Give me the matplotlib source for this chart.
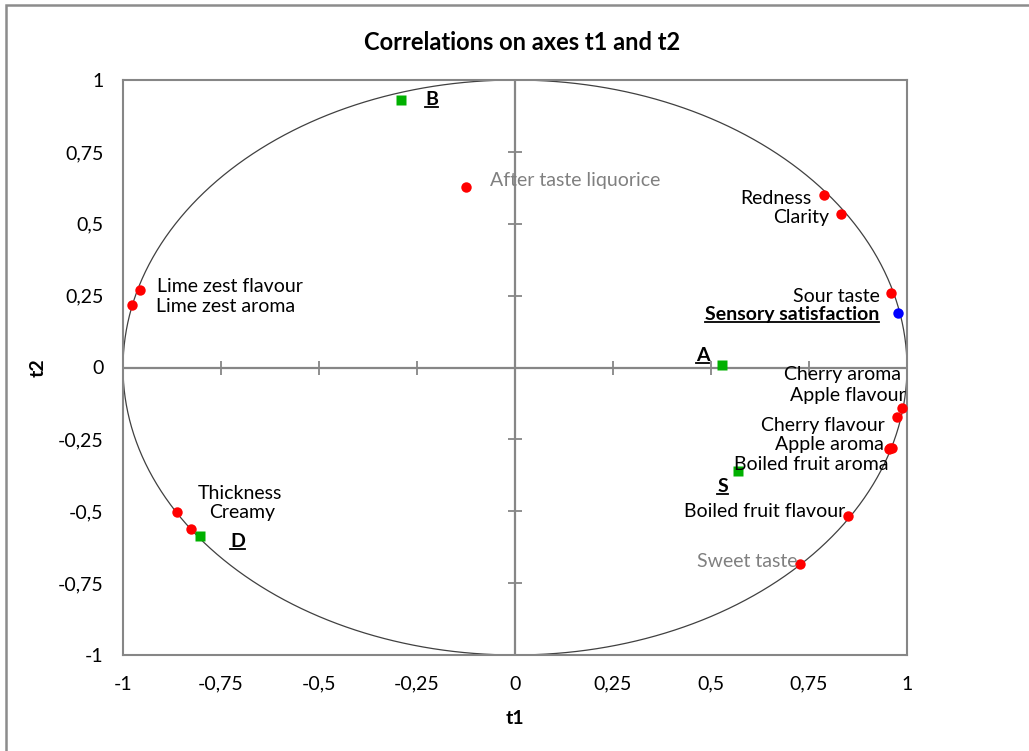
import matplotlib
matplotlib.use("Agg")
import matplotlib.pyplot as plt
import numpy as np
from matplotlib.lines import Line2D
from matplotlib.patches import Rectangle

plt.rcParams['font.family'] = ['Lato', 'DejaVu Sans']

# Variables (correlation circle)
var_names = ["After taste liquorice", "Redness", "Clarity", "Sour taste",
             "Cherry aroma", "Apple flavour", "Cherry flavour", "Apple aroma",
             "Boiled fruit aroma", "Boiled fruit flavour", "Sweet taste",
             "Lime zest flavour", "Lime zest aroma", "Thickness", "Creamy"]
var_t1 = [-0.125, 0.788, 0.832, 0.959, 0.987, 0.974, 0.953, 0.962,
          0.957, 0.849, 0.727, -0.957, -0.976, -0.863, -0.827]
var_t2 = [0.628, 0.600, 0.534, 0.259, -0.142, -0.172, -0.284, -0.279,
          -0.281, -0.515, -0.683, 0.270, 0.217, -0.501, -0.563]

# Supplementary variable
sup_names = ["Sensory satisfaction"]
sup_t1 = [0.977]
sup_t2 = [0.190]

# Observations
obs_names = ["B", "A", "S", "D"]
obs_t1 = [-0.292, 0.527, 0.568, -0.804]
obs_t2 = [0.930, 0.008, -0.359, -0.585]

xticks = [-1, -0.75, -0.5, -0.25, 0, 0.25, 0.5, 0.75, 1]
yticks = [-1, -0.75, -0.5, -0.25, 0, 0.25, 0.5, 0.75, 1]
tick_labels = ["-1", "-0,75", "-0,5", "-0,25", "0", "0,25", "0,5", "0,75", "1"]

# label placement: (dx px, dy px, ha)
label_pos = {
    "After taste liquorice": (24, 6, "left"),
    "Redness": (-12, -4, "right"),
    "Clarity": (-12, -4, "right"),
    "Sour taste": (-11, -3, "right"),
    "Cherry aroma": (-1, 34, "right"),
    "Apple flavour": (9, 21, "right"),
    "Cherry flavour": (-4, 24, "right"),
    "Apple aroma": (-8, 3, "right"),
    "Boiled fruit aroma": (-2, -16, "right"),
    "Boiled fruit flavour": (-3, 4, "right"),
    "Sweet taste": (-2, 2, "right"),
    "Lime zest flavour": (17, 3, "left"),
    "Lime zest aroma": (24, -1, "left"),
    "Thickness": (63, 18, "center"),
    "Creamy": (51, 17, "center"),
    "Sensory satisfaction": (-19, -2, "right"),
    "B": (31, 1, "center"),
    "A": (-19, 10, "center"),
    "S": (-15, -16, "center"),
    "D": (38, -6, "center"),
}
gray_labels = {"After taste liquorice", "Sweet taste"}
# proofing marks under some labels (fraction of text width)
squiggle = {"After taste liquorice": 1.0, "Boiled fruit aroma": 0.62,
            "Boiled fruit flavour": 1.0}

W, H = 1029, 751
fig = plt.figure(figsize=(W / 100, H / 100), dpi=100)
ax = fig.add_axes([123 / W, (H - 655) / H, 784 / W, 575 / H])
ax.set_xlim(-1, 1)
ax.set_ylim(-1, 1)

axis_gray = "#868686"
for s in ax.spines.values():
    s.set_color(axis_gray)
    s.set_linewidth(1.5)

ax.set_xticks(xticks)
ax.set_xticklabels(tick_labels)
ax.set_yticks(yticks)
ax.set_yticklabels(tick_labels)
ax.tick_params(length=0, labelsize=14)
ax.tick_params(axis='x', pad=15)
ax.tick_params(axis='y', pad=14)

# center axes with crossing ticks
ax.axhline(0, color=axis_gray, lw=1.6, zorder=1)
ax.axvline(0, color=axis_gray, lw=1.6, zorder=1)
tx = [t for t in xticks if t not in (-1, 1, 0)]
ax.plot(tx, [0] * len(tx), ls='none', marker='|', ms=10, mew=1.3, color=axis_gray, zorder=1)
ax.plot([0] * len(tx), tx, ls='none', marker='_', ms=10, mew=1.3, color=axis_gray, zorder=1)

# unit circle
th = np.linspace(0, 2 * np.pi, 721)
ax.plot(np.cos(th), np.sin(th), color="#404040", lw=0.9, zorder=2)

ax.plot(var_t1, var_t2, 'o', color="#ff0000", ms=7.5, mec='none', zorder=4)
ax.plot(sup_t1, sup_t2, 'o', color="#0000ff", ms=7.5, mec='none', zorder=4)
ax.plot(obs_t1, obs_t2, 's', color="#00b000", ms=7, mec='none', zorder=4)

underlined = []
marked = []
fs = 14
for n, x, y in zip(var_names, var_t1, var_t2):
    dx, dy, ha = label_pos[n]
    t = ax.annotate(n, (x, y), xytext=(dx, dy), textcoords='offset pixels',
                    ha=ha, va='center', fontsize=fs,
                    color="#808080" if n in gray_labels else "black", zorder=5)
    if n in squiggle:
        marked.append((t, squiggle[n]))
for n, x, y in zip(sup_names, sup_t1, sup_t2):
    dx, dy, ha = label_pos[n]
    t = ax.annotate(n, (x, y), xytext=(dx, dy), textcoords='offset pixels',
                    ha=ha, va='center', fontsize=fs, fontweight='bold', zorder=5)
    underlined.append(t)
for n, x, y in zip(obs_names, obs_t1, obs_t2):
    dx, dy, ha = label_pos[n]
    t = ax.annotate(n, (x, y), xytext=(dx, dy), textcoords='offset pixels',
                    ha=ha, va='center', fontsize=fs, fontweight='bold', zorder=5)
    underlined.append(t)

fig.text(522 / W, 1 - 43 / H, "Correlations on axes t1 and t2", fontsize=17,
         fontweight='bold', ha='center', va='center')
ax.set_xlabel("t1", fontsize=14, fontweight='bold', labelpad=12)
ax.set_ylabel("t2", fontsize=14, fontweight='bold', labelpad=8)

# outer chart border
fig.add_artist(Rectangle((6 / W, -0.05), 1.1, 1 - 5 / H + 0.05, transform=fig.transFigure,
                         fill=False, ec="#8c8c8c", lw=1.8, clip_on=False))

# underline the bold labels
fig.canvas.draw()
r = fig.canvas.get_renderer()
for t in underlined:
    bb = t.get_window_extent(r)
    yl = bb.y0 + 1
    fig.add_artist(Line2D([bb.x0 / W, bb.x1 / W], [yl / H, yl / H],
                          transform=fig.transFigure, color='black', lw=1.3))
for t, frac in marked:
    bb = t.get_window_extent(r)
    yl = bb.y0 + 1
    fig.add_artist(Line2D([bb.x0 / W, (bb.x0 + frac * bb.width) / W], [yl / H, yl / H],
                          transform=fig.transFigure, color='#f2a0a0', lw=0.8,
                          ls=(0, (1.5, 1)), zorder=0))

fig.savefig("out.png", dpi=100)
